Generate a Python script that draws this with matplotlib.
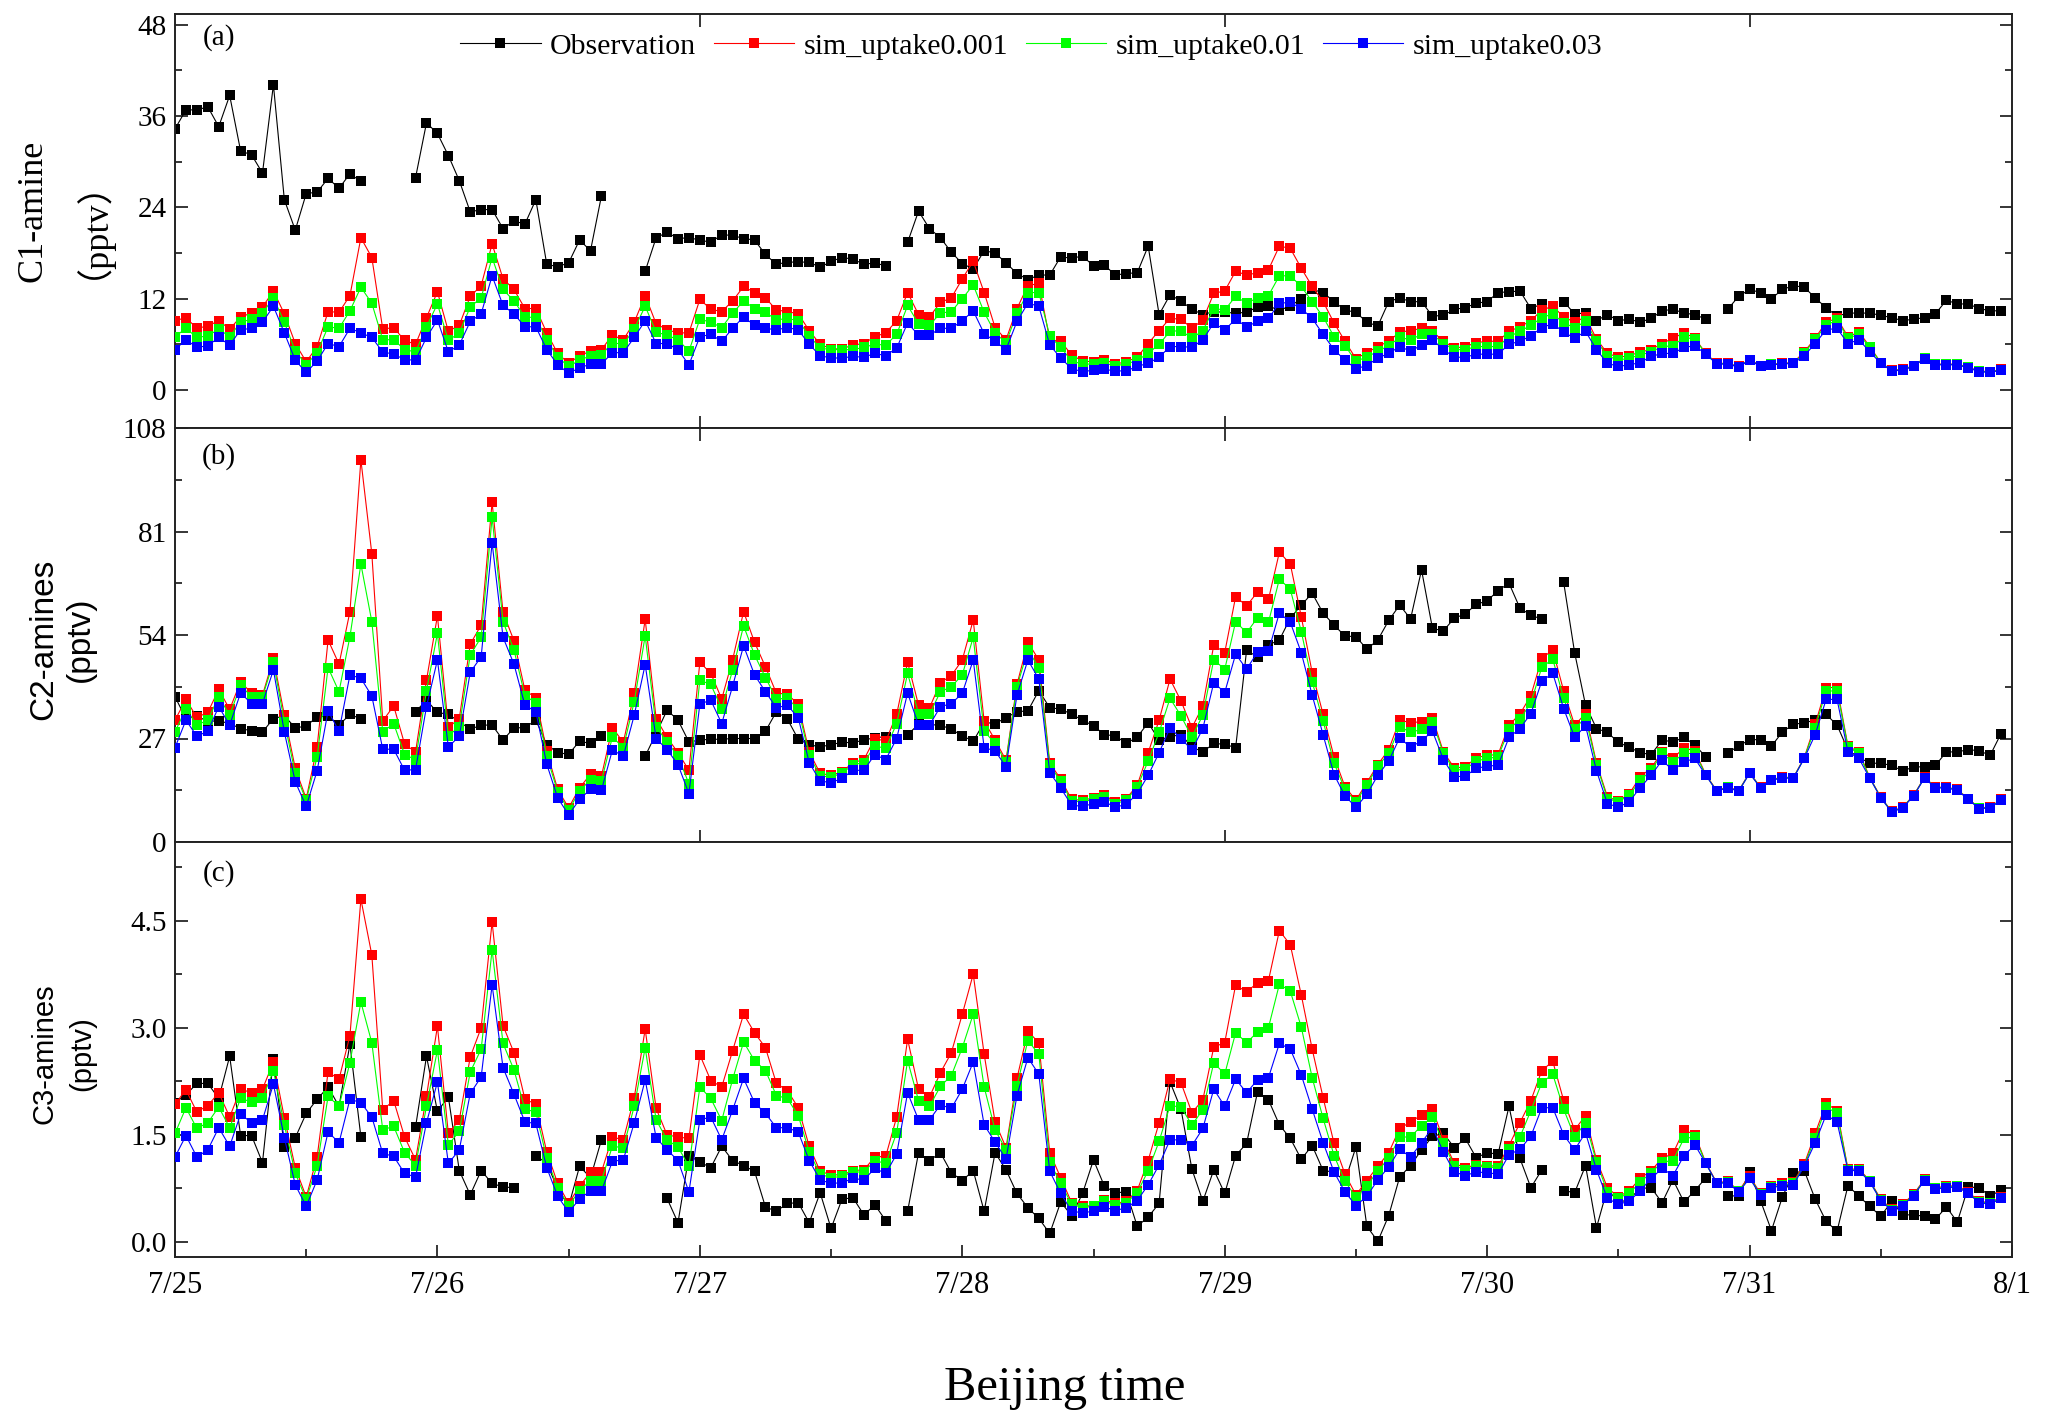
import numpy as np
import matplotlib
matplotlib.use("Agg")
import matplotlib.pyplot as plt
from matplotlib.ticker import MultipleLocator, FixedLocator, NullFormatter

N = float("nan")

# hours since 7/25 00:00 (hourly data)
hours = np.arange(168)
day_labels = ["7/25", "7/26", "7/27", "7/28", "7/29", "7/30", "7/31", "8/1"]
series_names = ["Observation", "sim_uptake0.001", "sim_uptake0.01", "sim_uptake0.03"]

# ---------------- C1-amine (pptv) ----------------
c1_obs = [34.3, 36.8, 36.8, 37.2, 34.6, 38.7, 31.4, 30.9, 28.5, 40.1, 25.0, 21.0, 25.8, 26.0, 27.8, 26.5, 28.4, 27.4, N, N,
          N, N, 27.9, 35.1, 33.7, 30.8, 27.5, 23.4, 23.7, 23.7, 21.2, 22.2, 21.8, 25.0, 16.5, 16.2, 16.7, 19.7, 18.3, 25.5,
          N, N, N, 15.6, 20.0, 20.7, 19.9, 20.0, 19.7, 19.4, 20.4, 20.3, 19.9, 19.7, 17.8, 16.5, 16.8, 16.8, 16.8, 16.1,
          16.9, 17.4, 17.2, 16.5, 16.7, 16.3, N, 19.4, 23.5, 21.2, 20.0, 18.1, 16.6, 15.9, 18.3, 18.0, 16.7, 15.3, 14.5, 15.1,
          15.1, 17.5, 17.3, 17.6, 16.3, 16.4, 15.1, 15.3, 15.4, 18.9, 9.9, 12.5, 11.7, 10.6, 9.9, 10.3, 10.2, 10.1, 10.2, 10.9,
          11.0, 10.5, 11.0, 12.0, 13.2, 12.8, 11.6, 10.5, 10.2, 8.9, 8.4, 11.6, 12.1, 11.6, 11.6, 9.7, 9.8, 10.6, 10.8, 11.4,
          11.6, 12.8, 12.9, 13.0, 10.7, 11.3, N, 11.6, 10.0, 10.1, 9.1, 9.9, 9.1, 9.3, 8.9, 9.4, 10.4, 10.6, 10.1, 9.9,
          9.3, N, 10.6, 12.3, 13.2, 12.8, 12.0, 13.2, 13.7, 13.5, 12.1, 10.8, 9.7, 10.1, 10.1, 10.1, 9.8, 9.5, 9.1, 9.3,
          9.5, 10.0, 11.8, 11.3, 11.3, 10.7, 10.4, 10.4]
c1_s001 = [9.1, 9.5, 8.1, 8.4, 9.1, 8.0, 9.6, 10.1, 10.9, 13.0, 10.0, 6.1, 3.7, 5.7, 10.3, 10.2, 12.4, 20.0, 17.4, 8.0,
           8.2, 6.5, 6.0, 9.5, 12.9, 7.7, 8.5, 12.3, 13.7, 19.2, 14.6, 13.2, 10.7, 10.7, 7.5, 4.8, 3.5, 4.5, 5.1, 5.3,
           7.2, 6.6, 8.9, 12.4, 8.7, 7.9, 7.5, 7.5, 11.9, 10.6, 10.3, 11.7, 13.6, 12.8, 12.1, 10.5, 10.3, 10.0, 7.8, 6.0,
           5.4, 5.4, 5.9, 6.1, 7.0, 7.5, 9.1, 12.8, 9.9, 9.6, 11.5, 12.1, 14.6, 16.9, 12.8, 8.2, 6.6, 10.7, 13.7, 14.0,
           6.6, 6.4, 4.6, 3.8, 3.7, 4.0, 3.4, 3.7, 4.3, 6.1, 7.8, 9.4, 9.3, 8.1, 9.2, 12.7, 13.0, 15.6, 15.1, 15.4,
           15.8, 18.9, 18.6, 16.0, 13.6, 11.6, 8.8, 6.4, 4.1, 4.9, 5.7, 6.4, 7.6, 7.8, 8.1, 7.7, 6.4, 5.5, 5.7, 6.2,
           6.4, 6.4, 7.7, 8.3, 9.1, 10.5, 11.0, 9.6, 8.9, 9.6, 6.7, 4.8, 4.3, 4.5, 5.0, 5.3, 6.1, 6.8, 7.5, 6.8,
           4.8, 3.5, 3.5, 3.1, 4.0, 3.2, 3.4, 3.5, 3.6, 5.0, 6.8, 8.9, 9.4, 7.0, 7.6, 5.7, 3.6, 2.6, 2.7, 3.2,
           4.2, 3.4, 3.4, 3.4, 3.0, 2.5, 2.4, 2.7]
c1_s01 = [7.0, 8.1, 6.9, 7.1, 8.0, 7.0, 8.9, 9.3, 10.1, 12.1, 8.9, 5.1, 3.3, 4.9, 8.3, 8.1, 10.4, 13.5, 11.4, 6.6,
          6.6, 5.3, 5.0, 8.3, 11.3, 6.5, 7.5, 10.9, 12.1, 17.4, 13.2, 11.7, 9.6, 9.5, 6.6, 4.3, 3.1, 3.9, 4.5, 4.6,
          6.2, 6.0, 8.0, 11.0, 7.6, 7.2, 6.6, 5.1, 9.3, 8.9, 8.2, 10.1, 11.7, 10.7, 10.2, 9.2, 9.4, 9.1, 7.1, 5.5,
          5.3, 5.3, 5.3, 5.6, 6.0, 5.9, 7.3, 11.1, 8.7, 8.5, 10.1, 10.3, 12.0, 13.8, 10.2, 7.5, 6.2, 10.1, 12.8, 12.8,
          7.1, 5.6, 3.8, 3.4, 3.4, 3.5, 3.2, 3.4, 3.9, 4.8, 6.0, 7.7, 7.8, 6.8, 7.8, 10.7, 10.5, 12.3, 11.4, 12.1,
          12.4, 15.0, 15.0, 13.6, 11.6, 9.6, 7.0, 5.8, 3.8, 4.3, 5.1, 5.8, 6.9, 6.6, 7.3, 7.3, 6.1, 5.3, 5.3, 5.7,
          5.7, 5.7, 7.0, 7.7, 8.5, 9.5, 10.0, 8.8, 8.2, 9.0, 6.4, 4.5, 3.9, 4.2, 4.6, 5.0, 5.7, 5.8, 6.9, 6.7,
          4.75, 3.45, 3.45, 3.05, 3.95, 3.15, 3.35, 3.45, 3.55, 4.8, 6.7, 8.5, 9.2, 6.8, 7.3, 5.6, 3.55, 2.55, 2.65, 3.15,
          4.15, 3.35, 3.35, 3.35, 2.95, 2.45, 2.35, 2.65]
c1_s03 = [5.3, 6.6, 5.6, 5.8, 6.9, 5.9, 7.9, 8.1, 8.9, 11.0, 7.5, 3.9, 2.3, 3.8, 6.1, 5.7, 8.1, 7.5, 6.9, 5.0,
          4.7, 4.0, 3.9, 6.9, 9.2, 5.0, 5.9, 9.0, 10.0, 15.0, 11.1, 10.0, 8.3, 8.3, 5.3, 3.3, 2.2, 2.9, 3.4, 3.4,
          4.9, 4.9, 6.9, 9.1, 6.1, 6.1, 5.3, 3.3, 7.0, 7.3, 6.4, 8.1, 9.6, 8.5, 8.1, 7.9, 8.2, 7.9, 6.0, 4.5,
          4.2, 4.2, 4.4, 4.3, 4.8, 4.5, 5.5, 8.8, 7.2, 7.2, 8.1, 8.1, 9.1, 10.4, 7.4, 6.4, 5.3, 9.0, 11.4, 11.0,
          5.9, 4.2, 2.8, 2.4, 2.6, 2.7, 2.5, 2.5, 3.1, 3.5, 4.3, 5.7, 5.7, 5.6, 6.6, 8.8, 7.9, 9.3, 8.3, 9.0,
          9.4, 11.4, 11.5, 10.7, 9.4, 7.3, 5.3, 3.9, 2.8, 3.2, 4.2, 4.8, 5.7, 5.1, 5.9, 6.6, 5.3, 4.3, 4.3, 4.7,
          4.7, 4.7, 6.0, 6.4, 7.1, 8.2, 8.7, 7.6, 6.8, 7.7, 5.3, 3.5, 3.1, 3.3, 3.6, 4.4, 4.8, 4.8, 5.6, 5.8,
          4.7, 3.4, 3.4, 3.0, 3.9, 3.1, 3.3, 3.4, 3.5, 4.5, 6.1, 7.9, 8.1, 6.1, 6.6, 5.0, 3.5, 2.5, 2.6, 3.1,
          4.1, 3.3, 3.3, 3.3, 2.9, 2.4, 2.3, 2.6]

# ---------------- C2-amines (pptv) ----------------
c2_obs = [37.9, 32.2, 32.8, 31.5, 31.6, 30.9, 29.6, 29.0, 28.7, 32.2, 32.9, 29.8, 30.2, 32.7, 32.8, 30.5, 33.3, 32.1, N, N,
          N, N, 34.0, 37.0, 33.8, 33.3, 31.4, 29.4, 30.5, 30.5, 26.6, 29.8, 29.8, 31.8, 25.4, 23.3, 22.9, 26.3, 25.7, 27.7,
          N, N, N, 22.4, 28.3, 34.4, 31.8, 26.1, 26.6, 26.8, 26.8, 27.0, 27.0, 27.0, 28.9, 34.0, 32.1, 26.8, 25.4, 24.8,
          25.4, 26.0, 25.9, 26.6, 27.2, 27.5, N, 28.0, 30.7, 30.6, 30.5, 29.4, 27.7, 26.3, 31.2, 30.9, 32.4, 34.0, 34.2, 39.5,
          35.0, 34.7, 33.3, 31.8, 30.3, 28.0, 27.7, 25.7, 27.4, 31.1, 26.6, 27.5, 28.0, 24.8, 23.5, 25.7, 25.5, 24.6, 50.0, 48.3,
          51.4, 52.7, 58.4, 61.8, 64.9, 59.7, 56.6, 53.7, 53.6, 50.3, 52.7, 57.8, 61.8, 58.2, 71.0, 55.7, 55.1, 58.4, 59.5, 62.0,
          62.9, 65.6, 67.5, 61.0, 59.2, 58.1, N, 67.7, 49.4, 35.7, 29.6, 28.6, 26.0, 24.7, 23.3, 22.8, 26.6, 26.1, 27.3, 25.3,
          22.2, N, 23.3, 25.0, 26.7, 26.7, 25.0, 28.7, 30.7, 31.1, 31.8, 33.3, 30.5, 24.0, 22.0, 20.6, 20.5, 20.0, 18.5, 19.6,
          19.6, 20.0, 23.5, 23.5, 24.1, 23.8, 22.6, 28.3]
c2_s001 = [31.8, 37.2, 32.5, 33.8, 39.8, 34.6, 41.8, 38.8, 38.3, 47.9, 33.1, 19.2, 11.3, 24.8, 52.7, 46.4, 60.1, 99.7, 75.2, 31.6,
           35.5, 25.5, 23.5, 42.2, 59.0, 29.9, 32.2, 51.6, 56.6, 88.6, 59.9, 52.5, 39.6, 37.6, 23.7, 13.7, 8.9, 14.1, 17.7, 17.2,
           29.8, 26.0, 38.8, 58.1, 32.2, 27.3, 23.3, 18.7, 46.9, 44.0, 37.3, 47.6, 60.1, 52.1, 45.7, 38.8, 38.6, 35.9, 23.5, 17.9,
           17.4, 18.3, 20.7, 21.5, 27.0, 26.3, 33.3, 46.9, 35.7, 35.0, 41.6, 43.4, 47.5, 57.9, 31.5, 26.6, 21.3, 41.1, 52.1, 47.5,
           20.6, 16.4, 11.1, 10.9, 11.5, 12.2, 10.5, 11.3, 14.8, 23.3, 31.8, 42.5, 36.8, 29.8, 35.5, 51.4, 49.4, 64.0, 61.6, 65.2,
           63.3, 75.6, 72.5, 58.8, 44.2, 33.3, 22.2, 14.4, 10.9, 15.5, 20.2, 24.1, 31.8, 31.1, 31.4, 32.4, 23.5, 19.3, 19.6, 22.0,
           22.6, 22.8, 30.5, 33.4, 38.2, 47.9, 50.1, 39.4, 30.5, 33.5, 20.6, 11.8, 10.7, 12.6, 17.0, 19.3, 23.5, 21.8, 24.6, 23.7,
           17.6, 13.4, 14.4, 13.4, 18.1, 14.3, 16.3, 16.9, 16.8, 22.0, 30.7, 40.3, 40.3, 25.0, 23.5, 16.8, 11.7, 8.0, 9.1, 12.2,
           16.9, 14.3, 14.3, 13.7, 11.3, 8.9, 9.1, 11.1]
c2_s01 = [28.7, 34.8, 30.5, 31.8, 37.9, 33.1, 40.9, 37.9, 37.9, 46.9, 31.4, 17.9, 10.9, 22.2, 45.5, 39.2, 53.6, 72.5, 57.5, 28.7,
          30.9, 22.8, 21.5, 39.5, 54.4, 27.7, 30.1, 48.8, 53.4, 84.7, 57.5, 50.1, 38.2, 36.3, 22.4, 13.1, 8.3, 13.3, 16.3, 15.9,
          27.4, 24.6, 36.6, 53.8, 30.1, 26.1, 22.4, 15.2, 42.2, 41.1, 34.8, 44.9, 56.4, 48.8, 42.9, 37.3, 37.5, 34.7, 22.6, 17.2,
          17.0, 17.9, 20.2, 20.7, 25.1, 24.4, 30.9, 44.0, 33.5, 33.3, 39.2, 40.5, 43.6, 53.4, 28.9, 25.7, 20.9, 40.5, 50.1, 45.5,
          20.0, 15.9, 10.6, 10.5, 11.1, 11.8, 10.0, 10.9, 14.4, 21.1, 28.6, 37.5, 32.9, 27.4, 33.1, 47.6, 45.0, 57.5, 54.6, 58.5,
          57.3, 68.6, 65.9, 54.9, 41.8, 31.5, 20.6, 13.7, 10.5, 14.9, 19.8, 23.1, 30.1, 28.6, 29.4, 31.4, 23.1, 18.7, 19.0, 21.1,
          21.8, 22.2, 29.4, 32.0, 36.3, 45.6, 47.7, 37.5, 29.6, 32.4, 20.2, 11.3, 10.5, 12.2, 16.1, 18.7, 23.1, 20.9, 23.1, 23.1,
          17.5, 13.3, 14.3, 13.3, 18.0, 14.2, 16.2, 16.8, 16.7, 21.9, 29.8, 39.4, 39.4, 24.8, 23.1, 16.7, 11.6, 7.9, 9.0, 12.1,
          16.8, 14.2, 14.2, 13.6, 11.2, 8.8, 9.0, 11.0]
c2_s03 = [24.6, 31.8, 27.6, 28.9, 35.3, 30.5, 38.9, 36.1, 36.1, 44.9, 28.7, 15.7, 9.3, 18.6, 34.2, 28.9, 43.6, 42.7, 38.1, 24.2,
          24.2, 18.7, 18.9, 35.3, 47.5, 24.8, 27.6, 44.3, 48.3, 78.1, 53.4, 46.4, 35.7, 34.0, 20.3, 11.5, 7.1, 11.1, 13.8, 13.5,
          24.0, 22.4, 33.1, 46.3, 27.0, 24.1, 20.2, 12.6, 36.0, 37.0, 30.9, 40.7, 51.2, 43.6, 39.2, 35.0, 35.7, 32.4, 20.7, 15.9,
          15.5, 16.6, 18.7, 18.7, 22.8, 21.5, 27.0, 38.9, 30.5, 30.5, 35.3, 36.1, 38.8, 47.5, 24.6, 23.8, 19.6, 38.3, 47.5, 42.5,
          18.1, 14.1, 9.6, 9.3, 10.0, 10.5, 9.1, 9.8, 12.6, 17.4, 23.3, 29.8, 27.0, 24.0, 29.6, 41.6, 39.0, 49.0, 45.1, 49.5,
          49.8, 59.8, 57.3, 49.4, 38.3, 28.0, 17.6, 12.0, 9.1, 12.4, 17.4, 21.1, 27.2, 24.7, 26.4, 28.9, 21.5, 17.0, 17.2, 19.2,
          19.8, 20.0, 27.3, 29.6, 33.5, 42.0, 44.0, 34.8, 27.3, 30.3, 18.6, 10.0, 9.1, 10.5, 14.2, 17.4, 21.3, 18.7, 20.9, 21.8,
          17.4, 13.2, 14.2, 13.2, 17.9, 14.1, 16.1, 16.7, 16.6, 21.8, 28.0, 37.2, 37.2, 23.5, 21.8, 16.6, 11.5, 7.8, 8.9, 12.0,
          16.7, 14.1, 14.1, 13.5, 11.1, 8.7, 8.9, 10.9]

# ---------------- C3-amines (pptv) ----------------
c3_obs = [1.95, 2.06, 2.22, 2.22, 2.01, 2.60, 1.49, 1.49, 1.11, 2.56, 1.33, 1.46, 1.80, 2.00, 2.17, 1.90, 2.77, 1.47, N, N,
          N, N, 1.61, 2.60, 1.83, 2.03, 1.00, 0.66, 1.00, 0.82, 0.77, 0.76, N, 1.21, 1.10, 0.75, 0.50, 1.06, 0.90, 1.43,
          N, N, N, N, N, 0.61, 0.27, 1.21, 1.12, 1.04, 1.34, 1.14, 1.07, 0.99, 0.49, 0.43, 0.54, 0.55, 0.27, 0.69,
          0.19, 0.60, 0.62, 0.38, 0.52, 0.30, N, 0.43, 1.25, 1.14, 1.25, 0.97, 0.86, 1.00, 0.43, 1.25, 1.01, 0.68, 0.48, 0.33,
          0.12, 0.56, 0.37, 0.68, 1.15, 0.78, 0.69, 0.70, 0.22, 0.35, 0.54, 2.24, 1.86, 1.02, 0.57, 1.01, 0.68, 1.21, 1.38, 2.10,
          1.99, 1.64, 1.45, 1.16, 1.35, 1.00, 0.98, 0.85, 1.33, 0.22, 0.01, 0.37, 0.91, 1.07, 1.29, 1.48, 1.52, 1.32, 1.45, 1.18,
          1.25, 1.23, 1.90, 1.17, 0.76, 1.01, N, 0.72, 0.69, 1.07, 0.20, 0.75, 0.55, 0.60, 0.75, 0.76, 0.55, 0.87, 0.56, 0.72,
          0.90, N, 0.64, 0.65, 0.98, 0.58, 0.16, 0.63, 0.96, 1.00, 0.60, 0.29, 0.15, 0.79, 0.64, 0.50, 0.36, 0.57, 0.38, 0.38,
          0.36, 0.32, 0.49, 0.28, 0.77, 0.76, 0.64, 0.73]
c3_s001 = [1.93, 2.13, 1.82, 1.91, 2.09, 1.75, 2.14, 2.09, 2.14, 2.52, 1.74, 1.04, 0.63, 1.19, 2.38, 2.28, 2.89, 4.80, 4.02, 1.85,
           1.98, 1.47, 1.15, 2.04, 3.02, 1.52, 1.71, 2.59, 3.00, 4.48, 3.03, 2.65, 2.00, 1.93, 1.26, 0.82, 0.54, 0.78, 0.98, 0.98,
           1.47, 1.43, 2.02, 2.98, 1.87, 1.50, 1.47, 1.45, 2.62, 2.26, 2.17, 2.68, 3.19, 2.93, 2.72, 2.22, 2.12, 1.88, 1.34, 0.99,
           0.94, 0.94, 1.00, 1.01, 1.19, 1.20, 1.75, 2.84, 2.14, 2.03, 2.37, 2.65, 3.19, 3.75, 2.63, 1.68, 1.32, 2.29, 2.95, 2.79,
           1.25, 0.90, 0.55, 0.50, 0.51, 0.59, 0.54, 0.57, 0.72, 1.14, 1.67, 2.28, 2.23, 1.81, 1.99, 2.73, 2.79, 3.60, 3.50, 3.63,
           3.66, 4.36, 4.16, 3.46, 2.70, 2.02, 1.38, 0.95, 0.66, 0.86, 1.06, 1.25, 1.59, 1.68, 1.78, 1.86, 1.43, 1.10, 1.04, 1.08,
           1.07, 1.06, 1.35, 1.67, 1.98, 2.40, 2.53, 1.98, 1.57, 1.77, 1.15, 0.76, 0.63, 0.72, 0.89, 1.00, 1.17, 1.24, 1.57, 1.50,
           1.11, 0.83, 0.85, 0.72, 0.92, 0.68, 0.79, 0.82, 0.84, 1.09, 1.52, 1.94, 1.84, 1.02, 1.02, 0.86, 0.60, 0.46, 0.53, 0.67,
           0.88, 0.76, 0.78, 0.79, 0.70, 0.57, 0.55, 0.63]
c3_s01 = [1.52, 1.88, 1.59, 1.67, 1.89, 1.60, 2.01, 1.96, 2.01, 2.40, 1.64, 0.96, 0.60, 1.07, 2.04, 1.90, 2.51, 3.36, 2.79, 1.57,
          1.62, 1.25, 1.07, 1.90, 2.69, 1.36, 1.55, 2.38, 2.70, 4.09, 2.78, 2.41, 1.86, 1.82, 1.17, 0.76, 0.51, 0.72, 0.86, 0.86,
          1.34, 1.32, 1.90, 2.72, 1.71, 1.43, 1.33, 1.06, 2.17, 2.01, 1.70, 2.28, 2.80, 2.54, 2.40, 2.05, 2.01, 1.77, 1.26, 0.95,
          0.90, 0.92, 0.98, 0.98, 1.14, 1.10, 1.53, 2.54, 1.98, 1.90, 2.18, 2.33, 2.72, 3.19, 2.17, 1.57, 1.29, 2.19, 2.82, 2.63,
          1.12, 0.82, 0.53, 0.48, 0.50, 0.57, 0.52, 0.55, 0.69, 1.00, 1.41, 1.91, 1.89, 1.64, 1.85, 2.51, 2.35, 2.93, 2.79, 2.94,
          3.00, 3.61, 3.51, 3.01, 2.30, 1.73, 1.21, 0.85, 0.63, 0.78, 1.00, 1.17, 1.47, 1.47, 1.63, 1.75, 1.38, 1.07, 1.01, 1.06,
          1.05, 1.04, 1.30, 1.47, 1.84, 2.23, 2.35, 1.86, 1.47, 1.67, 1.12, 0.70, 0.62, 0.68, 0.84, 0.97, 1.12, 1.14, 1.45, 1.47,
          1.10, 0.82, 0.84, 0.71, 0.90, 0.67, 0.77, 0.80, 0.82, 1.07, 1.46, 1.89, 1.80, 1.01, 1.01, 0.85, 0.59, 0.45, 0.52, 0.66,
          0.87, 0.75, 0.77, 0.78, 0.69, 0.56, 0.54, 0.62]
c3_s03 = [1.19, 1.49, 1.19, 1.29, 1.60, 1.34, 1.79, 1.67, 1.71, 2.21, 1.46, 0.80, 0.50, 0.87, 1.54, 1.39, 2.00, 1.95, 1.75, 1.24,
          1.20, 0.96, 0.91, 1.67, 2.24, 1.10, 1.29, 2.08, 2.31, 3.60, 2.44, 2.07, 1.68, 1.66, 1.04, 0.64, 0.42, 0.60, 0.72, 0.71,
          1.13, 1.15, 1.67, 2.27, 1.46, 1.29, 1.14, 0.70, 1.71, 1.75, 1.43, 1.85, 2.29, 1.95, 1.80, 1.60, 1.60, 1.54, 1.14, 0.87,
          0.82, 0.83, 0.89, 0.87, 1.03, 0.96, 1.23, 2.09, 1.71, 1.71, 1.92, 1.87, 2.14, 2.52, 1.64, 1.40, 1.16, 2.05, 2.58, 2.35,
          0.99, 0.68, 0.43, 0.41, 0.43, 0.49, 0.44, 0.48, 0.58, 0.80, 1.08, 1.43, 1.43, 1.35, 1.59, 2.14, 1.90, 2.28, 2.09, 2.27,
          2.30, 2.78, 2.70, 2.34, 1.86, 1.39, 0.98, 0.70, 0.51, 0.64, 0.87, 1.05, 1.30, 1.19, 1.39, 1.60, 1.26, 0.98, 0.93, 0.98,
          0.97, 0.95, 1.22, 1.30, 1.48, 1.88, 1.88, 1.50, 1.29, 1.53, 1.01, 0.61, 0.53, 0.57, 0.72, 0.89, 1.03, 0.93, 1.21, 1.36,
          1.10, 0.82, 0.83, 0.70, 0.89, 0.66, 0.76, 0.79, 0.80, 1.06, 1.39, 1.78, 1.68, 1.00, 1.00, 0.84, 0.58, 0.44, 0.51, 0.65,
          0.86, 0.74, 0.76, 0.77, 0.68, 0.55, 0.53, 0.61]

panels = [
    (c1_obs, c1_s001, c1_s01, c1_s03),
    (c2_obs, c2_s001, c2_s01, c2_s03),
    (c3_obs, c3_s001, c3_s01, c3_s03),
]
colors = ["#000000", "#FF0000", "#00FF00", "#0000FF"]
panel_tags = ["(a)", "(b)", "(c)"]
ylims = [(-5.0, 49.4), (0, 108), (-0.21, 5.6)]
ymajor = [12, 27, 1.5]
ylabels = ["C1-amine\n\uff08pptv\uff09", "C2-amines\n(pptv)", "C3-amines\n(pptv)"]

SERIF = ["Liberation Serif", "DejaVu Serif"]
W, H = 2067, 1426
fig = plt.figure(figsize=(W / 100, H / 100), dpi=100)

left_px, right_px = 175, 2012
bounds_px = [(14, 428), (428, 842), (842, 1257)]
axes = []
for (top, bot) in bounds_px:
    ax = fig.add_axes([left_px / W, 1 - bot / H, (right_px - left_px) / W, (bot - top) / H])
    axes.append(ax)

for k, ax in enumerate(axes):
    data = panels[k]
    for j, (vals, col) in enumerate(zip(data, colors)):
        ax.plot(hours, vals, color=col, lw=0.8, marker="s", ms=7.8, mec=col, mew=0.0,
                label=series_names[j], zorder=2 + j)
    ax.set_xlim(0, 168)
    ax.set_ylim(*ylims[k])
    ax.yaxis.set_major_locator(MultipleLocator(ymajor[k]))
    ax.yaxis.set_minor_locator(MultipleLocator(ymajor[k] / 2))
    if k < 2:
        ax.xaxis.set_major_locator(FixedLocator([48, 96, 144]))
        ax.xaxis.set_major_formatter(NullFormatter())
        ax.tick_params(axis="x", which="major", top=True, bottom=True, direction="in", length=9, width=1.1)
    else:
        ax.xaxis.set_major_locator(FixedLocator(np.arange(0, 169, 24)))
        ax.xaxis.set_minor_locator(MultipleLocator(12))
        ax.set_xticklabels(day_labels)
        ax.tick_params(axis="x", which="major", top=False, bottom=True, direction="in", length=9, width=1.1, pad=10)
        ax.tick_params(axis="x", which="minor", top=False, bottom=True, direction="in", length=6, width=1.1)
    ax.tick_params(axis="y", which="major", left=True, right=True, direction="in", length=9, width=1.1, pad=6)
    ax.tick_params(axis="y", which="minor", left=True, right=True, direction="in", length=5, width=1.1)
    for lab in ax.get_xticklabels() + ax.get_yticklabels():
        lab.set_family(SERIF)
        lab.set_fontsize(21)
    for lab in ax.get_xticklabels():
        lab.set_fontsize(22)
    for sp in ax.spines.values():
        sp.set_linewidth(1.4)
        sp.set_color("#222222")
    ax.text(0.024, [0.944, 0.93, 0.925][k], panel_tags[k], transform=ax.transAxes,
            ha="center", va="center", fontsize=21, family=SERIF)

# legend in panel (a)
leg = axes[0].legend(loc="center", bbox_to_anchor=(0.466, 0.922), ncol=4, frameon=False,
                     numpoints=1, handlelength=2.7, handletextpad=0.3, columnspacing=0.6,
                     prop={"family": SERIF, "size": 21.5})

# y-axis labels
fig.text(54 / W, 1 - 211 / H, ylabels[0], rotation=90, ha="center", va="center",
         fontsize=26, family=["Liberation Serif", "Noto Sans CJK SC"], linespacing=1.1, multialignment="center")
fig.text(62 / W, 1 - 639 / H, ylabels[1], rotation=90, ha="center", va="center",
         fontsize=24, family=["Liberation Sans Narrow", "Liberation Sans"], linespacing=1.2, multialignment="center")
fig.text(63 / W, 1 - 1054 / H, ylabels[2], rotation=90, ha="center", va="center",
         fontsize=21, family=["Liberation Sans Narrow", "Liberation Sans"], linespacing=1.45, multialignment="center")

fig.text(1065 / W, 1 - 1388 / H, "Beijing time", ha="center", va="center", fontsize=35, family=SERIF)

fig.savefig("out.png", dpi=100)
